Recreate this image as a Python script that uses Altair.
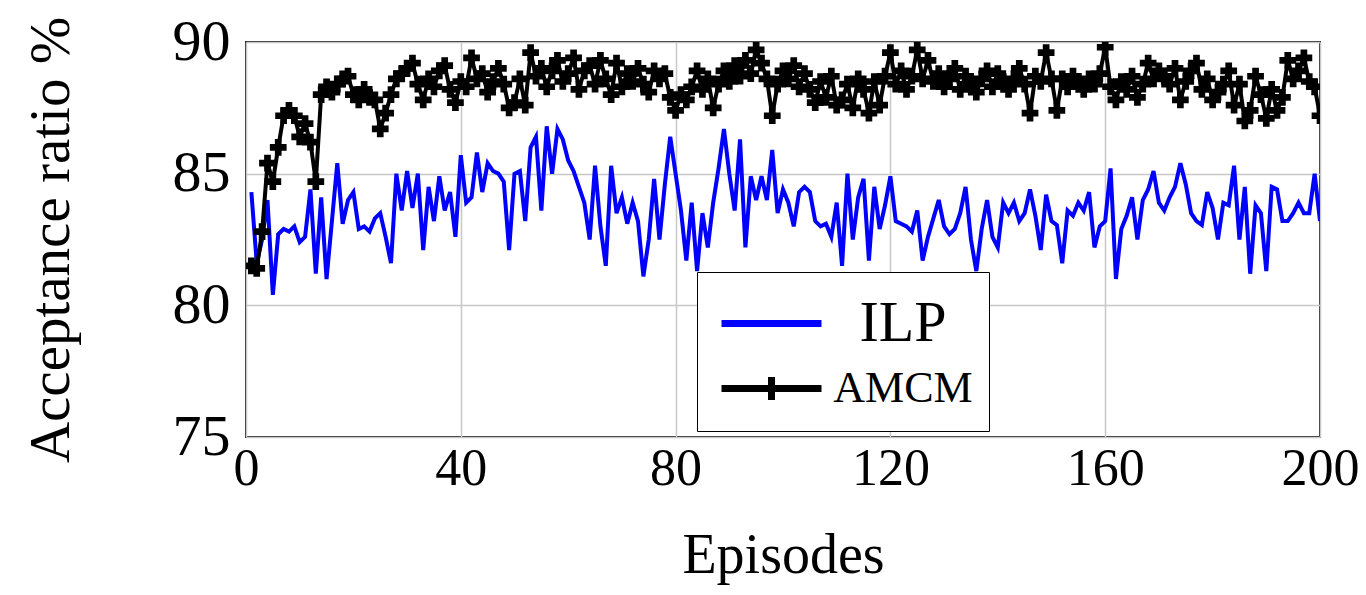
import altair as alt
import pandas as pd

episodes = list(range(1, 201))

ilp = [
    84.3, 81.6, 82.5, 84.0, 80.4, 82.7, 82.9, 82.8, 83.0, 82.4,
    82.6, 84.4, 81.2, 84.1, 81.0, 83.2, 85.4, 83.1, 84.0, 84.3,
    82.9, 83.0, 82.8, 83.3, 83.5, 82.6, 81.6, 85.0, 83.6, 85.1,
    83.7, 85.0, 82.1, 84.5, 83.2, 84.9, 83.6, 84.3, 82.6, 85.7,
    83.9, 84.1, 85.8, 84.3, 85.4, 85.1, 85.0, 84.7, 82.1, 85.0,
    85.1, 83.2, 86.0, 86.4, 83.6, 86.8, 85.0, 86.7, 86.3, 85.5,
    85.1, 84.5, 83.9, 82.5, 85.3, 83.0, 81.5, 85.3, 83.5, 84.1,
    83.1, 83.9, 83.2, 81.1, 82.5, 84.8, 82.5, 84.6, 86.4, 85.0,
    83.6, 81.7, 83.9, 81.3, 83.5, 82.2, 83.9, 85.2, 86.7, 85.0,
    83.6, 86.3, 82.2, 84.9, 84.0, 84.9, 84.0, 85.9, 83.5, 84.4,
    83.9, 83.0, 84.3, 84.5, 84.3, 83.2, 83.0, 83.1, 82.6, 83.9,
    81.5, 85.0, 82.5, 84.1, 84.8, 81.7, 84.5, 82.9, 83.8, 84.9,
    83.2, 83.1, 83.0, 82.8, 83.6, 81.7, 82.6, 83.3, 84.0, 83.0,
    82.7, 82.9, 83.5, 84.5, 82.5, 81.3, 82.9, 84.0, 82.6, 82.2,
    83.9, 83.5, 83.9, 83.2, 83.5, 84.4, 83.4, 82.1, 84.2, 83.2,
    83.05, 81.6, 83.6, 83.4, 83.9, 83.6, 84.3, 82.2, 83.0, 83.2,
    85.2, 81.0, 82.9, 83.4, 84.1, 82.5, 84.0, 84.4, 85.1, 83.9,
    83.6, 84.1, 84.5, 85.4, 84.6, 83.5, 83.2, 83.05, 84.3, 83.7,
    82.5, 83.9, 83.8, 85.3, 82.5, 84.5, 81.2, 83.8, 83.5, 81.3,
    84.5, 84.4, 83.2, 83.2, 83.5, 83.9, 83.5, 83.5, 85.0, 83.2,
]

amcm = [
    81.5, 81.4, 82.8, 85.4, 84.7, 86.0, 87.2, 87.4, 87.2, 86.4,
    86.9, 86.2, 84.7, 88.0, 88.3, 88.1, 88.4, 88.6, 88.7, 88.0,
    87.8, 88.2, 87.9, 87.8, 86.7, 87.3, 88.0, 88.6, 88.8, 89.0,
    89.2, 88.4, 87.8, 88.6, 88.3, 88.9, 89.1, 88.2, 87.7, 88.5,
    88.3, 89.4, 88.6, 88.8, 88.1, 88.5, 89.0, 88.4, 87.5, 87.7,
    88.6, 87.6, 89.6, 88.7, 89.0, 88.3, 88.9, 89.3, 88.5, 88.8,
    89.4, 88.2, 88.9, 89.1, 88.4, 89.3, 88.6, 88.0, 89.2, 88.3,
    88.8, 88.5, 89.0, 88.4, 88.1, 88.9, 88.6, 88.8, 87.9, 87.4,
    88.0, 87.8, 88.3, 88.9, 88.2, 88.6, 87.5, 88.4, 88.9, 88.5,
    89.1, 88.7, 89.3, 88.8, 89.7, 89.2, 88.6, 87.2, 88.4, 88.9,
    88.6, 89.1, 88.3, 88.8, 88.2, 87.7, 88.5, 87.9, 88.7, 87.6,
    87.8, 88.4, 87.5, 88.6, 88.2, 87.3, 88.5, 87.6, 88.7, 89.6,
    88.4, 88.9, 88.2, 88.7, 89.7, 88.6, 89.3, 88.5, 88.8, 88.3,
    88.6, 89.0, 88.2, 88.7, 88.4, 88.1, 88.6, 88.9, 88.3, 88.8,
    88.5, 88.2, 88.6, 89.0, 88.4, 87.3, 88.7, 88.5, 89.6, 88.6,
    87.4, 88.6, 88.3, 88.7, 88.5, 88.2, 88.6, 88.4, 88.8, 89.8,
    88.3, 87.8, 88.5, 88.2, 88.7, 87.9, 88.4, 89.2, 88.6, 88.9,
    88.7, 88.4, 89.0, 87.8, 88.5, 88.9, 89.2, 88.2, 88.6, 87.8,
    88.1, 88.4, 88.9, 87.6, 88.4, 87.0, 87.4, 88.7, 88.0, 87.1,
    88.2, 87.4, 87.9, 89.3, 88.6, 88.9, 89.4, 88.5, 88.3, 87.2,
]

series_names = ["ILP", "AMCM"]
series_colors = ["#0000ff", "#000000"]
x_ticks = [0, 40, 80, 120, 160, 200]
y_ticks = [75, 80, 85, 90]

df = pd.DataFrame({
    "episode": episodes * 2,
    "value": ilp + amcm,
    "series": ["ILP"] * len(ilp) + ["AMCM"] * len(amcm),
})
df_amcm = df[df["series"] == "AMCM"]

FONT = "Liberation Serif"

x = alt.X("episode:Q", title="Episodes",
          scale=alt.Scale(domain=[0, 200], nice=False, zero=False),
          axis=alt.Axis(values=x_ticks, labelFontSize=52, titleFontSize=56,
                        labelPadding=6, titlePadding=34, ticks=False, domain=False,
                        gridColor="#c8c8c8", gridWidth=1.5, labelFont=FONT,
                        titleFont=FONT, titleFontWeight="normal", labelColor="#000",
                        titleColor="#000", labelFlush=False))
y = alt.Y("value:Q", title="Acceptance ratio %",
          scale=alt.Scale(domain=[75, 90], nice=False, zero=False),
          axis=alt.Axis(values=y_ticks, labelFontSize=58, titleFontSize=57,
                        labelPadding=16, titlePadding=92, ticks=False, domain=False,
                        gridColor="#c8c8c8", gridWidth=1.5, labelFont=FONT,
                        titleFont=FONT, titleFontWeight="normal", labelColor="#000",
                        titleColor="#000", labelFlush=False))

lines = alt.Chart(df).mark_line(strokeWidth=4, clip=True).encode(
    x=x, y=y,
    color=alt.Color("series:N",
                    scale=alt.Scale(domain=series_names, range=series_colors),
                    sort=series_names,
                    legend=alt.Legend(
                        title=None, orient="none", legendX=451, legendY=230,
                        fillColor="white", strokeColor="#000", padding=16,
                        symbolType={"expr": "datum.label === 'ILP' ? 'M-1.5625,0H1.5625' : 'M-1.5625,0H1.5625M0,-0.36V0.36'"},
                        symbolSize=4096, symbolStrokeWidth=7, symbolOffset=23,
                        labelFont=FONT,
                        labelFontSize={"expr": "datum.label === 'ILP' ? 58 : 44"},
                        labelAlign="center", labelOffset=96, rowPadding=0,
                        labelColor="#000", labelLimit=400,
                    )),
    detail="series:N",
)

points = alt.Chart(df_amcm).mark_point(shape="cross", filled=True, size=280,
                                       color="#000", opacity=1, clip=True).encode(
    x=alt.X("episode:Q"), y=alt.Y("value:Q"))

chart = alt.layer(lines, points).properties(
    width=1074, height=395,
    autosize=alt.AutoSizeParams(type="none"),
    padding={"left": 238, "top": 34, "right": 38, "bottom": 150},
).configure_view(stroke="#222", strokeWidth=2)

chart.save("out.html", embed_options={"renderer": "svg", "actions": False})
